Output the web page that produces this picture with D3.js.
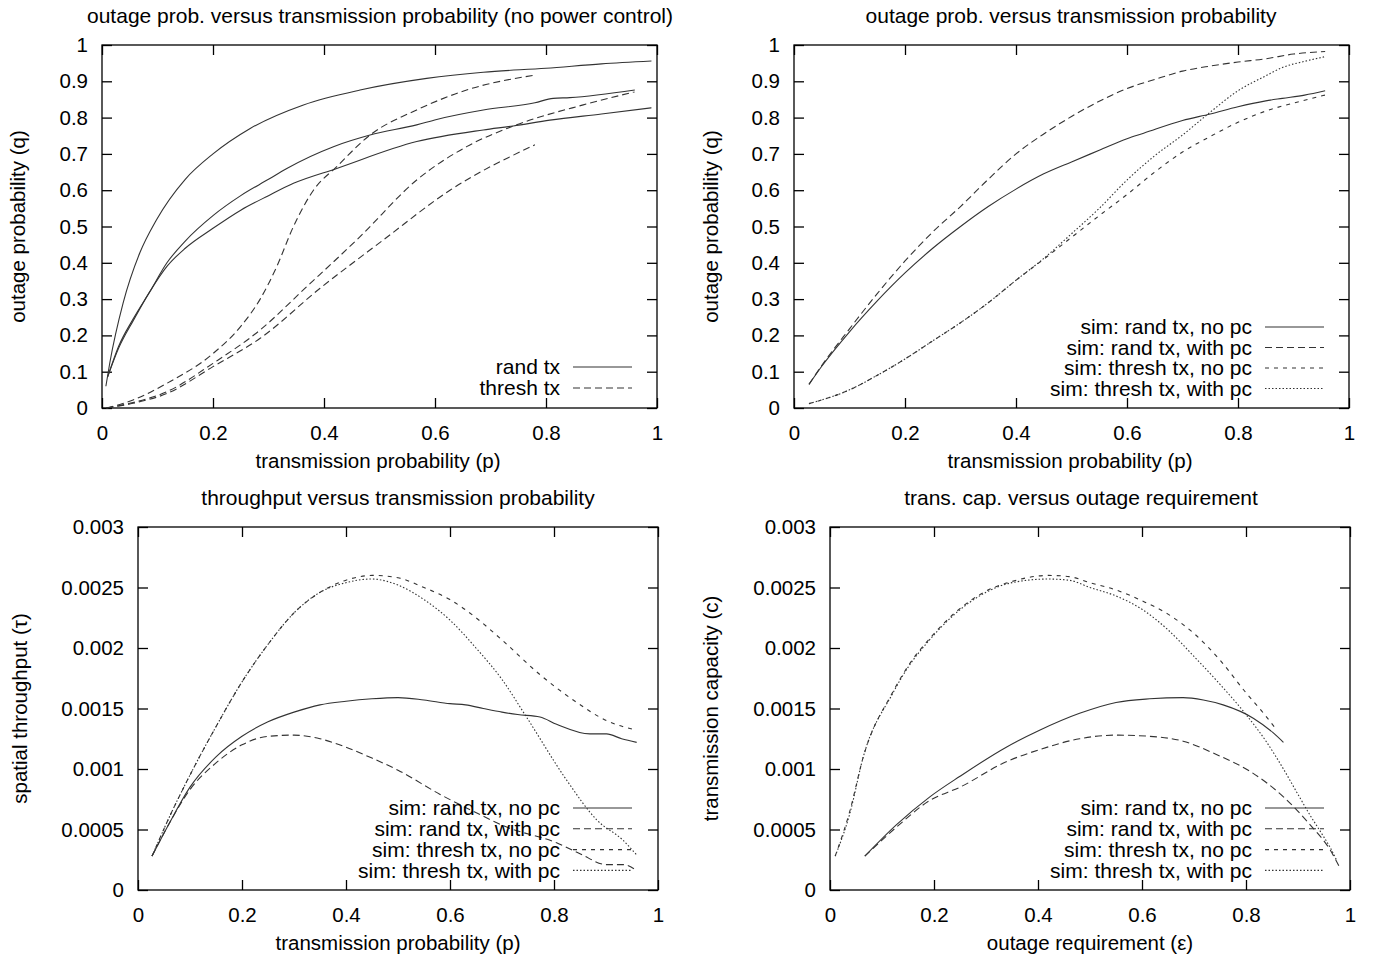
<!DOCTYPE html>
<html>
<head lang="en">
    <meta charset="UTF-8">
    <title>Outage, throughput and transmission capacity</title>
    <script type="text/javascript" src="https://cdn.jsdelivr.net/npm/d3@7/dist/d3.min.js"></script>
    <style>
        body { margin: 0; background: #fff; }
        svg text { font-family: "Liberation Sans", Arial, Helvetica, sans-serif; fill: #000; }
    </style>
</head>
<body>
<svg id="chart" width="1377" height="956"></svg>

<script>
    // ---- data ----
    // panel 1: outage prob vs p, no power control (three rand tx, three thresh tx curves)
    var p1RandA = [[0.007,0.06],[0.014,0.124],[0.038,0.289],[0.068,0.427],[0.098,0.518],[0.15,0.63],[0.2,0.70],
        [0.267,0.77],[0.363,0.835],[0.465,0.876],[0.585,0.908],[0.687,0.925],[0.8,0.936],[0.9,0.948],[0.99,0.956]];
    var p1RandB = [[0.01,0.085],[0.03,0.17],[0.056,0.245],[0.086,0.32],[0.117,0.4],[0.15,0.46],[0.2,0.53],
        [0.25,0.585],[0.3,0.63],[0.333,0.66],[0.417,0.72],[0.483,0.752],[0.567,0.78],[0.603,0.795],[0.687,0.821],
        [0.78,0.841],[0.813,0.853],[0.843,0.855],[0.96,0.876]];
    var p1RandC = [[0.01,0.085],[0.03,0.165],[0.056,0.24],[0.086,0.32],[0.117,0.39],[0.15,0.44],[0.2,0.495],
        [0.25,0.545],[0.3,0.585],[0.345,0.619],[0.423,0.66],[0.567,0.734],[0.687,0.766],[0.741,0.777],
        [0.807,0.793],[0.9,0.81],[0.99,0.827]];
    var p1ThreshA = [[0.008,0],[0.056,0.022],[0.117,0.068],[0.2,0.15],[0.25,0.225],[0.285,0.3],[0.315,0.39],
        [0.345,0.5],[0.381,0.6],[0.423,0.665],[0.483,0.752],[0.567,0.821],[0.657,0.876],[0.78,0.917]];
    var p1ThreshB = [[0.008,0],[0.056,0.015],[0.117,0.045],[0.2,0.123],[0.285,0.215],[0.366,0.33],[0.465,0.472],
        [0.567,0.628],[0.657,0.72],[0.747,0.78],[0.867,0.835],[0.96,0.871]];
    var p1ThreshC = [[0.008,0],[0.056,0.013],[0.117,0.04],[0.2,0.114],[0.285,0.192],[0.393,0.33],[0.507,0.463],
        [0.627,0.60],[0.78,0.725]];

    // panel 2: outage prob vs p
    var p2RandNoPc = [[0.027,0.065],[0.05,0.115],[0.1,0.21],[0.15,0.295],[0.2,0.372],[0.25,0.44],[0.3,0.5],
        [0.35,0.555],[0.4,0.603],[0.45,0.645],[0.5,0.678],[0.55,0.71],[0.6,0.742],[0.63,0.757],[0.7,0.792],
        [0.75,0.81],[0.8,0.83],[0.85,0.846],[0.88,0.853],[0.92,0.862],[0.957,0.874]];
    var p2RandPc = [[0.027,0.065],[0.05,0.117],[0.1,0.218],[0.15,0.315],[0.2,0.405],[0.25,0.485],[0.3,0.555],
        [0.35,0.63],[0.4,0.70],[0.45,0.755],[0.5,0.803],[0.55,0.845],[0.6,0.88],[0.65,0.905],[0.7,0.928],
        [0.75,0.942],[0.8,0.953],[0.85,0.962],[0.9,0.975],[0.957,0.982]];
    var p2ThreshNoPc = [[0.027,0.012],[0.1,0.05],[0.15,0.09],[0.2,0.135],[0.25,0.185],[0.3,0.235],[0.35,0.29],
        [0.4,0.352],[0.45,0.41],[0.5,0.47],[0.55,0.53],[0.6,0.588],[0.65,0.65],[0.7,0.705],[0.75,0.748],
        [0.8,0.787],[0.85,0.818],[0.9,0.84],[0.957,0.862]];
    var p2ThreshPc = [[0.027,0.012],[0.1,0.05],[0.15,0.09],[0.2,0.135],[0.25,0.185],[0.3,0.235],[0.35,0.29],
        [0.4,0.352],[0.45,0.412],[0.5,0.48],[0.55,0.55],[0.6,0.628],[0.65,0.695],[0.7,0.752],[0.75,0.815],
        [0.8,0.874],[0.85,0.915],[0.88,0.938],[0.92,0.955],[0.957,0.968]];

    // panel 3: spatial throughput vs p
    var p3RandNoPc = [[0.027,0.00028],[0.06,0.00055],[0.1,0.00085],[0.15,0.0011],[0.2,0.00127],[0.25,0.00139],
        [0.3,0.00147],[0.35,0.00153],[0.4,0.00156],[0.45,0.00158],[0.5,0.00159],[0.55,0.00157],[0.6,0.00154],
        [0.63,0.00153],[0.664,0.0015],[0.7,0.00147],[0.73,0.00145],[0.773,0.00143],[0.805,0.00137],
        [0.869,0.00129],[0.901,0.00129],[0.93,0.00125],[0.959,0.00122]];
    var p3RandPc = [[0.027,0.00028],[0.06,0.00055],[0.1,0.00083],[0.15,0.00105],[0.2,0.0012],[0.25,0.00127],
        [0.3,0.00128],[0.35,0.00125],[0.4,0.00118],[0.45,0.00109],[0.5,0.00099],[0.581,0.00079],[0.645,0.00065],
        [0.709,0.00052],[0.805,0.00039],[0.85,0.0003],[0.901,0.00021],[0.933,0.00021],[0.959,0.00016]];
    var p3ThreshNoPc = [[0.027,0.00028],[0.06,0.0006],[0.1,0.00095],[0.15,0.00135],[0.2,0.00172],[0.25,0.00203],
        [0.3,0.00229],[0.35,0.00246],[0.4,0.00256],[0.45,0.0026],[0.5,0.00258],[0.55,0.0025],[0.6,0.0024],
        [0.65,0.00225],[0.699,0.00207],[0.773,0.00178],[0.837,0.00157],[0.901,0.0014],[0.959,0.00132]];
    var p3ThreshPc = [[0.027,0.00028],[0.06,0.0006],[0.1,0.00095],[0.15,0.00135],[0.2,0.00172],[0.25,0.00203],
        [0.3,0.00229],[0.35,0.00246],[0.4,0.00254],[0.45,0.00257],[0.5,0.00252],[0.55,0.0024],[0.6,0.00223],
        [0.65,0.002],[0.7,0.00174],[0.747,0.00143],[0.824,0.00091],[0.882,0.00058],[0.933,0.00041],
        [0.959,0.00029]];

    // panel 4: transmission capacity vs outage requirement
    var p4RandNoPc = [[0.067,0.00028],[0.128,0.00054],[0.192,0.00077],[0.25,0.00094],[0.339,0.00118],
        [0.403,0.00132],[0.48,0.00146],[0.55,0.00155],[0.615,0.00158],[0.679,0.00159],[0.718,0.00157],
        [0.756,0.00153],[0.814,0.00142],[0.852,0.0013],[0.872,0.00122]];
    var p4RandPc = [[0.067,0.00028],[0.128,0.00052],[0.192,0.00074],[0.25,0.00085],[0.339,0.00106],
        [0.403,0.00116],[0.48,0.00125],[0.55,0.00128],[0.615,0.00127],[0.679,0.00123],[0.743,0.00112],
        [0.808,0.00098],[0.872,0.00077],[0.923,0.00054],[0.962,0.00033],[0.981,0.00018]];
    var p4ThreshNoPc = [[0.01,0.00028],[0.038,0.00065],[0.064,0.0011],[0.12,0.00163],[0.15,0.00185],
        [0.19,0.00207],[0.24,0.00229],[0.3,0.00247],[0.35,0.00255],[0.42,0.0026],[0.46,0.00259],[0.5,0.00254],
        [0.55,0.00248],[0.6,0.00239],[0.65,0.00228],[0.7,0.00212],[0.75,0.0019],[0.8,0.00163],[0.83,0.00148],
        [0.856,0.00134]];
    var p4ThreshPc = [[0.01,0.00028],[0.038,0.00063],[0.064,0.0011],[0.12,0.00162],[0.15,0.00184],
        [0.19,0.00206],[0.24,0.00228],[0.3,0.00246],[0.35,0.00254],[0.42,0.00257],[0.46,0.00256],[0.5,0.0025],
        [0.55,0.00243],[0.6,0.00232],[0.65,0.00215],[0.7,0.00193],[0.75,0.0017],[0.8,0.00145],[0.84,0.00122],
        [0.872,0.001],[0.9,0.00079],[0.923,0.00062],[0.945,0.00047],[0.962,0.00035],[0.975,0.00024]];

    var xTicks = [0, 0.2, 0.4, 0.6, 0.8, 1];
    var qTicks = [0, 0.1, 0.2, 0.3, 0.4, 0.5, 0.6, 0.7, 0.8, 0.9, 1];
    var tauTicks = [0, 0.0005, 0.001, 0.0015, 0.002, 0.0025, 0.003];

    var simLabels = ["sim: rand tx, no pc", "sim: rand tx, with pc", "sim: thresh tx, no pc", "sim: thresh tx, with pc"];

    // gnuplot-like line types
    var dashes = { solid: null, dash: "7,4", short: "4,5", dot: "1.5,2" };

    var svg = d3.select("#chart");

    function drawPanel(cfg) {
        var x = d3.scaleLinear().domain([0, 1]).range([cfg.left, cfg.right]);
        var y = d3.scaleLinear().domain(cfg.yDomain).range([cfg.bottom, cfg.top]);
        var g = svg.append("g");

        // ticks on all four sides, pointing in
        var tl = 10;
        g.append("g").attr("transform", "translate(0," + cfg.bottom + ")")
            .call(d3.axisBottom(x).tickValues(xTicks).tickSizeInner(-tl).tickSizeOuter(0).tickPadding(17)
                .tickFormat(d3.format("")));
        g.append("g").attr("transform", "translate(0," + cfg.top + ")")
            .call(d3.axisTop(x).tickValues(xTicks).tickSizeInner(-tl).tickSizeOuter(0).tickFormat(""));
        g.append("g").attr("transform", "translate(" + cfg.left + ",0)")
            .call(d3.axisLeft(y).tickValues(cfg.yTicks).tickSizeInner(-tl).tickSizeOuter(0).tickPadding(14)
                .tickFormat(function (d) { return cfg.yFormat(d); }));
        g.append("g").attr("transform", "translate(" + cfg.right + ",0)")
            .call(d3.axisRight(y).tickValues(cfg.yTicks).tickSizeInner(-tl).tickSizeOuter(0).tickFormat(""));
        g.selectAll(".domain").remove();
        g.selectAll(".tick line").attr("stroke", "#000").attr("stroke-width", 1.3);
        g.selectAll(".tick text").style("font-size", "20.5px").attr("fill", "#000");

        g.append("rect")
            .attr("x", cfg.left).attr("y", cfg.top)
            .attr("width", cfg.right - cfg.left).attr("height", cfg.bottom - cfg.top)
            .attr("fill", "none").attr("stroke", "#000").attr("stroke-width", 1.3);

        var line = d3.line()
            .x(function (d) { return x(d[0]); })
            .y(function (d) { return y(d[1]); })
            .curve(d3.curveMonotoneX);

        cfg.series.forEach(function (s) {
            g.append("path").datum(s.data)
                .attr("d", line)
                .attr("fill", "none")
                .attr("stroke", "#333")
                .attr("stroke-width", 1.1)
                .attr("stroke-dasharray", dashes[s.style]);
        });

        // legend
        cfg.legend.forEach(function (item, i) {
            var ly = cfg.legendY + i * cfg.legendStep;
            g.append("text")
                .attr("x", cfg.legendTextX).attr("y", ly)
                .attr("dy", "0.35em")
                .attr("text-anchor", "end")
                .style("font-size", "21px")
                .text(item.label);
            g.append("line")
                .attr("x1", cfg.legendTextX + 13).attr("x2", cfg.legendTextX + 72)
                .attr("y1", ly).attr("y2", ly)
                .attr("stroke", "#333").attr("stroke-width", 1.1)
                .attr("stroke-dasharray", dashes[item.style]);
        });

        g.append("text")
            .attr("x", cfg.titleX).attr("y", cfg.top - 29)
            .attr("dy", "0.35em")
            .attr("text-anchor", "middle")
            .style("font-size", "21px")
            .text(cfg.title);
        g.append("text")
            .attr("x", cfg.xLabelX).attr("y", cfg.bottom + 53)
            .attr("dy", "0.35em")
            .attr("text-anchor", "middle")
            .style("font-size", "20.5px")
            .text(cfg.xLabel);
        g.append("text")
            .attr("transform", "translate(" + cfg.yLabelX + "," + ((cfg.top + cfg.bottom) / 2) + ") rotate(-90)")
            .attr("dy", "0.35em")
            .attr("text-anchor", "middle")
            .style("font-size", "20.5px")
            .text(cfg.yLabel);
    }

    var qFormat = function (d) { return d3.format("")(+d.toFixed(1)); };
    var tauFormat = function (d) { return d === 0 ? "0" : String(+d.toFixed(4)); };

    drawPanel({
        left: 102, right: 657, top: 45, bottom: 408,
        yDomain: [0, 1], yTicks: qTicks, yFormat: qFormat,
        title: "outage prob. versus transmission probability (no power control)", titleX: 380,
        xLabel: "transmission probability (p)", xLabelX: 378,
        yLabel: "outage probability (q)", yLabelX: 18,
        series: [
            { data: p1RandA, style: "solid" }, { data: p1RandB, style: "solid" }, { data: p1RandC, style: "solid" },
            { data: p1ThreshA, style: "dash" }, { data: p1ThreshB, style: "dash" }, { data: p1ThreshC, style: "dash" }
        ],
        legend: [{ label: "rand tx", style: "solid" }, { label: "thresh tx", style: "dash" }],
        legendTextX: 560, legendY: 367, legendStep: 21
    });

    drawPanel({
        left: 794, right: 1349, top: 45, bottom: 408,
        yDomain: [0, 1], yTicks: qTicks, yFormat: qFormat,
        title: "outage prob. versus transmission probability", titleX: 1071,
        xLabel: "transmission probability (p)", xLabelX: 1070,
        yLabel: "outage probability (q)", yLabelX: 711,
        series: [
            { data: p2RandNoPc, style: "solid" }, { data: p2RandPc, style: "dash" },
            { data: p2ThreshNoPc, style: "short" }, { data: p2ThreshPc, style: "dot" }
        ],
        legend: [{ label: simLabels[0], style: "solid" }, { label: simLabels[1], style: "dash" },
            { label: simLabels[2], style: "short" }, { label: simLabels[3], style: "dot" }],
        legendTextX: 1252, legendY: 327, legendStep: 20.5
    });

    drawPanel({
        left: 138, right: 658, top: 527, bottom: 890,
        yDomain: [0, 0.003], yTicks: tauTicks, yFormat: tauFormat,
        title: "throughput versus transmission probability", titleX: 398,
        xLabel: "transmission probability (p)", xLabelX: 398,
        yLabel: "spatial throughput (\u03c4)", yLabelX: 20,
        series: [
            { data: p3RandNoPc, style: "solid" }, { data: p3RandPc, style: "dash" },
            { data: p3ThreshNoPc, style: "short" }, { data: p3ThreshPc, style: "dot" }
        ],
        legend: [{ label: simLabels[0], style: "solid" }, { label: simLabels[1], style: "dash" },
            { label: simLabels[2], style: "short" }, { label: simLabels[3], style: "dot" }],
        legendTextX: 560, legendY: 808, legendStep: 20.8
    });

    drawPanel({
        left: 830, right: 1350, top: 527, bottom: 890,
        yDomain: [0, 0.003], yTicks: tauTicks, yFormat: tauFormat,
        title: "trans. cap. versus outage requirement", titleX: 1081,
        xLabel: "outage requirement (\u03b5)", xLabelX: 1090,
        yLabel: "transmission capacity (c)", yLabelX: 711,
        series: [
            { data: p4RandNoPc, style: "solid" }, { data: p4RandPc, style: "dash" },
            { data: p4ThreshNoPc, style: "short" }, { data: p4ThreshPc, style: "dot" }
        ],
        legend: [{ label: simLabels[0], style: "solid" }, { label: simLabels[1], style: "dash" },
            { label: simLabels[2], style: "short" }, { label: simLabels[3], style: "dot" }],
        legendTextX: 1252, legendY: 808, legendStep: 20.8
    });
</script>
</body>
</html>
